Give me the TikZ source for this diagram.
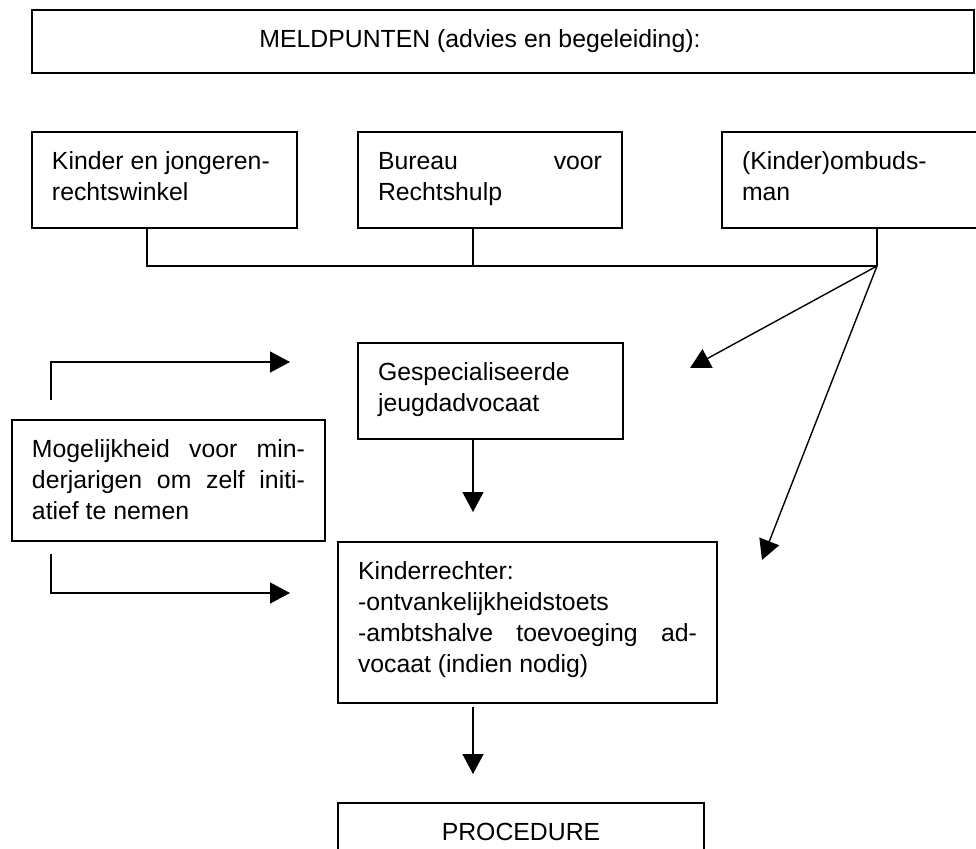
\documentclass[tikz,border=0pt]{standalone}
\usepackage{fontspec}
\setmainfont{Liberation Sans}
\usetikzlibrary{arrows.meta}
\hbadness=10000
\newcommand{\vaktekst}[3]{\parbox[c][#2][t]{#1}{\strut #3}}

\begin{document}
\begin{tikzpicture}[x=0.5pt,y=-0.5pt,>={Triangle[length=10pt,width=10.5pt]},
        font=\fontsize{12.4}{15.5}\selectfont,
        vak/.style={draw,line width=1pt,anchor=north west,outer sep=0pt,inner xsep=10pt,inner ysep=8pt},
        lijn/.style={line width=0.7pt}]
    \clip (0,0) rectangle (976,848);
    \node[draw,line width=1pt,anchor=north west,outer sep=0pt,inner sep=0pt,minimum width=471pt,minimum height=31.5pt] (meld) at (32,10) {MELDPUNTEN (advies en begeleiding):\hspace*{23pt}};
    \node[vak] (kjr) at (32,132) {\vaktekst{112.5pt}{32pt}{Kinder en jongeren-\\rechtswinkel}};
    \node[vak] (bvr) at (358,132) {\vaktekst{112pt}{32pt}{Bureau voor\linebreak Rechtshulp}};
    \node[vak] (omb) at (722,132) {\vaktekst{109pt}{32pt}{(Kinder)ombuds-\\man}};
    \node[vak] (jadv) at (358,343) {\vaktekst{112.5pt}{32pt}{Gespecialiseerde\\jeugdadvocaat}};
    \node[vak] (mog) at (12,420) {\vaktekst{136.5pt}{44.5pt}{Mogelijkheid voor min-\linebreak derjarigen om zelf initi-\linebreak atief te nemen}};
    \node[vak] (krechter) at (338,542) {\vaktekst{169.5pt}{64.5pt}{Kinderrechter:\\-ontvankelijkheidstoets\\-ambtshalve toevoeging ad-\linebreak vocaat (indien nodig)}};
    \node[vak] (proc) at (338,803) {\parbox[c][40pt][t]{163pt}{\centering\strut PROCEDURE}};

    \coordinate (hub) at (877,266);
    \coordinate (pijl1) at (690,368);
    \coordinate (pijl2) at (762,560);
    \draw[lijn] (kjr.south west) ++(115,0) |- (hub);
    \draw[lijn] (bvr.south west) ++(115,0) -- ++(0,38);
    \draw[lijn] (omb.south west) ++(155,0) -- (hub);
    \draw[lijn,->] (hub) -- (pijl1);
    \draw[lijn,->] (hub) -- (pijl2);
    \draw[lijn,->] (jadv.south west) ++(115,0) -- ++(0,73);
    \draw[lijn,->] (krechter.south west) ++(135,4) -- ++(0,67);
    \draw[lijn,->] (mog.north west) ++(39,-20) |- ++(239,-38);
    \draw[lijn,->] (mog.south west) ++(39,13) |- ++(239,39);
\end{tikzpicture}
\end{document}
